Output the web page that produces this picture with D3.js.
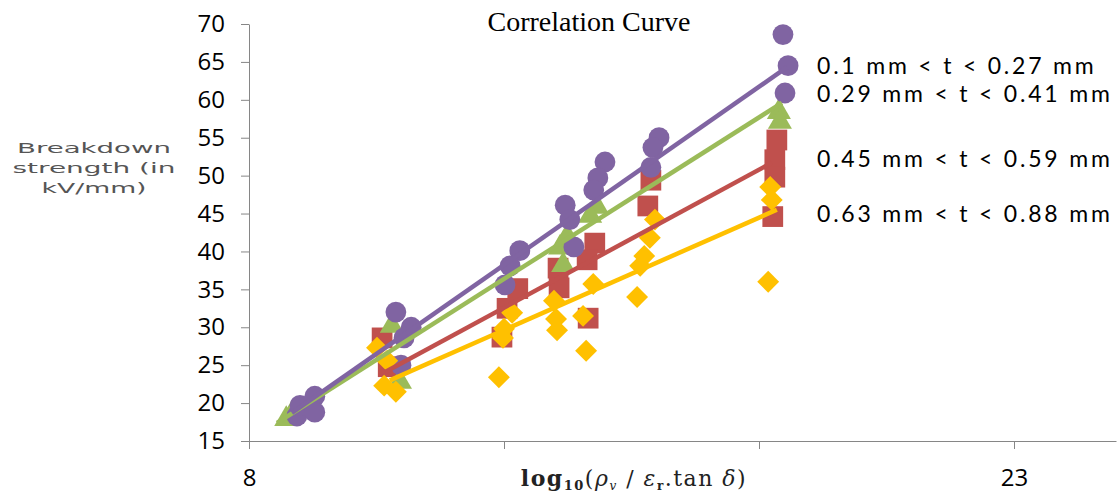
<!DOCTYPE html>
<html lang="en">
<head>
<meta charset="utf-8">
<title>Correlation Curve</title>
<script src="https://cdn.jsdelivr.net/npm/d3@7"></script>
<style>
  body { margin: 0; background: #fff; }
  svg { display: block; }
  .tick text { font-family: "Open Sans", Lato, sans-serif; font-size: 24px; fill: #000; }
  .axis path, .axis line { stroke: #868686; }
</style>
</head>
<body>
<script>
// ---- data ----
var seriesNames = ["0.1 mm < t < 0.27 mm", "0.29 mm < t < 0.41 mm", "0.45 mm < t < 0.59 mm", "0.63 mm < t < 0.88 mm"];
var seriesColors = ["#8064A2", "#9BBB59", "#C0504D", "#FFC000"];

var purplePts = [[8.94,18.3],[9.0,19.7],[9.29,20.9],[9.29,18.8],[10.88,32.0],[11.18,30.0],[11.04,28.6],[10.98,25.0],
  [13.31,40.1],[13.12,38.1],[13.02,35.6],[14.2,46.1],[14.29,44.2],[14.37,40.6],[14.98,51.8],[14.84,49.7],[14.76,48.1],
  [16.04,55.0],[15.92,53.7],[15.88,51.1],[18.47,68.6],[18.57,64.5],[18.51,60.9]];
var greenPts = [[8.73,17.9],[8.84,18.6],[10.8,30.2],[10.96,22.8],[14.1,40.5],[14.24,42.0],[14.82,45.9],[14.69,44.7],
  [14.16,38.2],[18.39,58.4],[18.41,57.1]];
var redPts = [[10.61,28.6],[10.73,24.8],[13.27,35.1],[13.06,32.5],[12.96,28.7],[14.06,37.8],[14.08,35.2],[14.78,41.1],
  [14.63,38.9],[14.65,31.2],[15.88,49.4],[15.82,46.0],[18.35,54.7],[18.31,52.1],[18.31,49.8],[18.27,44.6]];
var yellowPts = [[10.51,27.3],[10.71,25.6],[10.65,22.3],[10.88,21.5],[13.16,31.9],[13.0,29.8],[12.98,28.6],[12.9,23.4],
  [13.98,33.5],[14.02,31.1],[14.04,29.6],[14.75,35.7],[14.55,31.5],[14.61,26.9],[15.96,44.2],[15.86,41.8],[15.75,39.4],
  [15.67,38.1],[15.61,34.0],[18.22,48.5],[18.25,46.8],[18.18,36.0]];

// trend lines (end points)
var purpleTrend = [[8.84,18.7],[18.55,64.3]];
var greenTrend = [[8.55,17.4],[18.45,59.6]];
var redTrend = [[10.67,24.1],[18.25,51.7]];
var yellowTrend = [[10.76,23.0],[18.35,45.5]];

var xTicks = [8, 13, 18, 23];
var xTickLabels = ["8", "", "", "23"];
var yTicks = [15, 20, 25, 30, 35, 40, 45, 50, 55, 60, 65, 70];

var w = 1120, h = 495;
var margin = {left: 249, right: 4, top: 24, bottom: 54};

var svg = d3.select("body").append("svg").attr("width", w).attr("height", h);

var xScale = d3.scaleLinear().domain([8, 25]).range([margin.left, w - margin.right]);
var yScale = d3.scaleLinear().domain([15, 70]).range([h - margin.bottom, margin.top]);

// axes
var yAxis = d3.axisLeft(yScale).tickValues(yTicks).tickSize(8).tickPadding(16).tickSizeOuter(0);
svg.append("g").attr("class", "axis")
   .attr("transform", "translate(" + margin.left + ",0)")
   .call(yAxis);

var xAxis = d3.axisBottom(xScale).tickValues(xTicks).tickSize(8).tickPadding(20).tickSizeOuter(0)
   .tickFormat(function(d, i) { return xTickLabels[i]; });
svg.append("g").attr("class", "axis")
   .attr("transform", "translate(0," + (h - margin.bottom) + ")")
   .call(xAxis);

// markers
var shapes = [
  {pts: purplePts, type: d3.symbolCircle, size: 340, rot: 0, color: seriesColors[0]},
  {pts: greenPts, type: d3.symbolTriangle, size: 250, rot: 0, color: seriesColors[1]},
  {pts: redPts, type: d3.symbolSquare, size: 430, rot: 0, color: seriesColors[2]},
  {pts: yellowPts, type: d3.symbolSquare, size: 240, rot: 45, color: seriesColors[3]}
];
// draw order: red, green, purple, yellow
[2, 1, 0, 3].forEach(function(k) {
  var s = shapes[k];
  svg.append("g").selectAll("path")
     .data(s.pts)
     .enter()
     .append("path")
     .attr("d", d3.symbol().type(s.type).size(s.size))
     .attr("transform", function(d) {
       return "translate(" + xScale(d[0]) + "," + yScale(d[1]) + ") rotate(" + s.rot + ")";
     })
     .attr("fill", s.color);
});

// trend lines on top
var line = d3.line().x(function(d) { return xScale(d[0]); }).y(function(d) { return yScale(d[1]); });
var trends = [redTrend, greenTrend, purpleTrend, yellowTrend];
var trendColors = [seriesColors[2], seriesColors[1], seriesColors[0], seriesColors[3]];
trends.forEach(function(t, i) {
  svg.append("path")
     .attr("d", line(t))
     .attr("fill", "none")
     .attr("stroke", trendColors[i])
     .attr("stroke-width", 4.5);
});

// legend (text only)
var legendY = [74, 102, 167, 222];
svg.append("g").selectAll("text")
   .data(seriesNames)
   .enter()
   .append("text")
   .attr("x", 817)
   .attr("y", function(d, i) { return legendY[i]; })
   .attr("font-family", "Lato, 'Open Sans', sans-serif")
   .attr("font-size", 23)
   .attr("letter-spacing", 2.8)
   .text(function(d) { return d; });

// title
svg.append("text")
   .attr("x", 589).attr("y", 31)
   .attr("text-anchor", "middle")
   .attr("font-family", "'Liberation Serif', 'Times New Roman', serif")
   .attr("font-size", 28)
   .text("Correlation Curve");

// y axis title
var yTitle = ["Breakdown", "strength (in", "kV/mm)"];
var yTitleLen = [154, 163, 105];
svg.append("g").selectAll("text")
   .data(yTitle)
   .enter()
   .append("text")
   .attr("x", 94)
   .attr("y", function(d, i) { return 153 + i * 20; })
   .attr("text-anchor", "middle")
   .attr("font-family", "'DejaVu Sans', sans-serif")
   .attr("font-size", 14)
   .attr("fill", "#555")
   .attr("textLength", function(d, i) { return yTitleLen[i]; })
   .attr("lengthAdjust", "spacingAndGlyphs")
   .text(function(d) { return d; });

// x axis title
var xTitle = svg.append("text")
   .attr("x", 634).attr("y", 486)
   .attr("text-anchor", "middle")
   .attr("font-family", "'DejaVu Serif', 'Liberation Serif', serif")
   .attr("font-size", 22)
   .attr("letter-spacing", 1.5)
   .attr("fill", "#222");
xTitle.append("tspan").attr("font-weight", "bold").text("log");
xTitle.append("tspan").attr("font-size", 13).attr("font-weight", "bold").attr("dy", 4).text("10");
xTitle.append("tspan").attr("dy", -4).text("(");
xTitle.append("tspan").attr("font-style", "italic").text("ρ");
xTitle.append("tspan").attr("font-size", 12).attr("dy", 4).attr("font-style", "italic").text("v");
xTitle.append("tspan").attr("dy", -4).text(" / ");
xTitle.append("tspan").attr("font-style", "italic").text("ε");
xTitle.append("tspan").attr("font-size", 12).attr("font-weight", "bold").attr("dy", 4).text("r");
xTitle.append("tspan").attr("dy", -4).text(".tan ");
xTitle.append("tspan").attr("font-style", "italic").text("δ");
xTitle.append("tspan").text(")");
</script>
</body>
</html>
